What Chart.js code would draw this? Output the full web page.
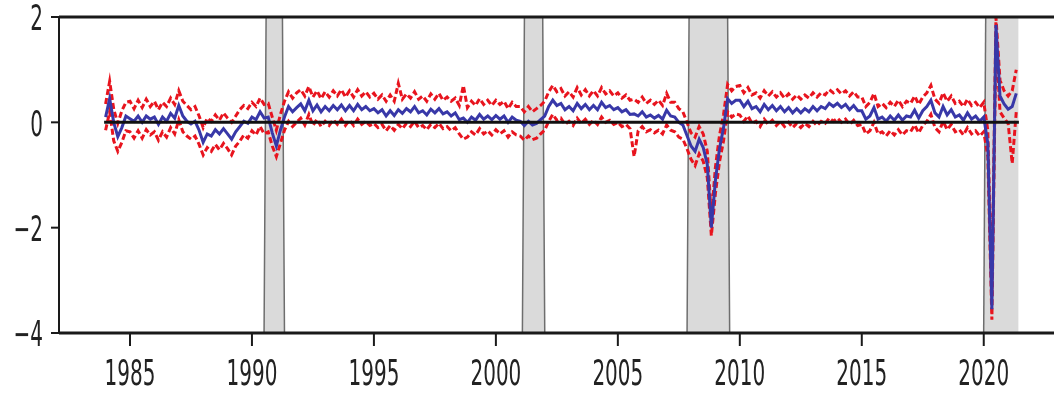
<!DOCTYPE html>
<html>
<head>
<meta charset="utf-8">
<script src="https://cdn.jsdelivr.net/npm/chart.js@4/dist/chart.umd.min.js"></script>
<style>
  body { margin: 0; background: #fff; }
  #wrap { width: 1054px; height: 399px; }
</style>
</head>
<body>
<div id="wrap"><canvas id="chart"></canvas></div>
<script>
// bi-monthly values (Jan, Mar, May, Jul, Sep, Nov), 1984 -> May 2021
const startYear = 1984;
const stepYear = 1 / 6;

const median = [
  0.10, 0.45, 0.00, -0.27, -0.10, 0.12,   // 1984
  0.07, 0.02, 0.12, 0.00, 0.12, 0.06,     // 1985
  0.10, -0.04, 0.10, 0.02, 0.17, 0.08,    // 1986
  0.32, 0.12, 0.02, -0.03, 0.02, -0.15,   // 1987
  -0.38, -0.22, -0.26, -0.14, -0.22, -0.12, // 1988
  -0.22, -0.32, -0.18, -0.08, 0.02, -0.02, // 1989
  0.10, 0.05, 0.20, 0.08, 0.10, -0.20,    // 1990
  -0.45, -0.15, 0.10, 0.30, 0.20, 0.28,   // 1991
  0.35, 0.22, 0.42, 0.22, 0.33, 0.20,     // 1992
  0.30, 0.22, 0.32, 0.24, 0.33, 0.22,     // 1993
  0.32, 0.22, 0.34, 0.24, 0.30, 0.22,     // 1994
  0.26, 0.18, 0.24, 0.12, 0.22, 0.13,     // 1995
  0.24, 0.17, 0.26, 0.20, 0.30, 0.18,     // 1996
  0.22, 0.14, 0.25, 0.18, 0.26, 0.16,     // 1997
  0.20, 0.12, 0.18, 0.05, 0.08, 0.00,     // 1998
  0.10, 0.04, 0.15, 0.06, 0.12, 0.05,     // 1999
  0.13, 0.06, 0.12, 0.00, 0.10, 0.04,     // 2000
  0.02, -0.06, 0.02, -0.05, -0.02, 0.05,  // 2001
  0.12, 0.30, 0.42, 0.32, 0.36, 0.24,     // 2002
  0.30, 0.22, 0.36, 0.26, 0.34, 0.24,     // 2003
  0.32, 0.24, 0.38, 0.28, 0.32, 0.24,     // 2004
  0.28, 0.20, 0.24, 0.15, 0.16, 0.12,     // 2005
  0.20, 0.10, 0.14, 0.08, 0.13, 0.06,     // 2006
  0.23, 0.12, 0.10, 0.00, -0.05, -0.25,   // 2007
  -0.45, -0.55, -0.32, -0.48, -0.80, -2.00, // 2008
  -1.10, -0.50, -0.10, 0.45, 0.36, 0.42,  // 2009
  0.42, 0.30, 0.40, 0.26, 0.30, 0.20,     // 2010
  0.34, 0.24, 0.32, 0.22, 0.30, 0.20,     // 2011
  0.28, 0.18, 0.26, 0.18, 0.26, 0.20,     // 2012
  0.30, 0.22, 0.30, 0.26, 0.36, 0.30,     // 2013
  0.36, 0.28, 0.34, 0.24, 0.32, 0.22,     // 2014
  0.22, 0.06, 0.12, 0.28, 0.06, 0.10,     // 2015
  0.02, 0.12, 0.04, 0.14, 0.04, 0.12,     // 2016
  0.10, 0.23, 0.08, 0.22, 0.30, 0.42,     // 2017
  0.18, 0.10, 0.30, 0.14, 0.24, 0.10,     // 2018
  0.14, 0.04, 0.18, 0.06, 0.12, 0.02,     // 2019
  0.10, -0.40, -3.55, 1.85, 0.50, 0.35,   // 2020
  0.25, 0.30, 0.55                        // 2021
];

const upper = [
  0.35, 0.78, 0.25, -0.02, 0.22, 0.38,
  0.40, 0.26, 0.42, 0.28, 0.44, 0.30,
  0.40, 0.24, 0.38, 0.30, 0.46, 0.34,
  0.60, 0.40, 0.32, 0.24, 0.30, 0.12,
  -0.10, 0.08, 0.02, 0.14, 0.04, 0.18,
  0.08, 0.00, 0.12, 0.24, 0.32, 0.26,
  0.38, 0.30, 0.46, 0.34, 0.36, 0.10,
  -0.15, 0.15, 0.40, 0.58, 0.46, 0.56,
  0.62, 0.50, 0.68, 0.48, 0.60, 0.45,
  0.58, 0.48, 0.60, 0.50, 0.62, 0.48,
  0.60, 0.48, 0.62, 0.50, 0.58, 0.48,
  0.55, 0.44, 0.52, 0.40, 0.52, 0.40,
  0.74, 0.44, 0.54, 0.46, 0.58, 0.44,
  0.50, 0.40, 0.54, 0.44, 0.55, 0.42,
  0.48, 0.40, 0.46, 0.32, 0.70, 0.28,
  0.40, 0.32, 0.45, 0.34, 0.42, 0.32,
  0.42, 0.34, 0.40, 0.26, 0.38, 0.30,
  0.30, 0.20, 0.30, 0.20, 0.26, 0.32,
  0.40, 0.58, 0.70, 0.58, 0.64, 0.50,
  0.58, 0.48, 0.66, 0.52, 0.62, 0.50,
  0.60, 0.50, 0.66, 0.54, 0.60, 0.50,
  0.56, 0.46, 0.52, 0.42, 0.44, 0.38,
  0.48, 0.36, 0.42, 0.34, 0.42, 0.32,
  0.55, 0.38, 0.38, 0.26, 0.20, 0.00,
  -0.20, -0.28, -0.08, -0.22, -0.55, -1.80,
  -0.85, -0.25, 0.15, 0.72, 0.60, 0.68,
  0.70, 0.56, 0.66, 0.52, 0.56, 0.46,
  0.60, 0.50, 0.58, 0.48, 0.56, 0.46,
  0.54, 0.44, 0.52, 0.44, 0.52, 0.46,
  0.56, 0.48, 0.56, 0.52, 0.62, 0.56,
  0.62, 0.54, 0.60, 0.50, 0.58, 0.48,
  0.48, 0.30, 0.38, 0.55, 0.30, 0.36,
  0.28, 0.38, 0.30, 0.42, 0.30, 0.40,
  0.36, 0.50, 0.34, 0.48, 0.56, 0.70,
  0.44, 0.36, 0.56, 0.40, 0.50, 0.36,
  0.40, 0.30, 0.44, 0.32, 0.38, 0.28,
  0.38, -0.15, -3.30, 2.00, 0.80, 0.60,
  0.50, 0.60, 1.00
];

const lower = [
  -0.15, 0.20, -0.35, -0.55, -0.38, -0.16,
  -0.18, -0.30, -0.16, -0.30, -0.14, -0.24,
  -0.18, -0.34, -0.18, -0.28, -0.10, -0.22,
  0.05, -0.18, -0.26, -0.32, -0.26, -0.42,
  -0.62, -0.48, -0.55, -0.42, -0.52, -0.40,
  -0.50, -0.62, -0.45, -0.36, -0.24, -0.30,
  -0.16, -0.24, -0.08, -0.22, -0.18, -0.45,
  -0.65, -0.40, -0.15, 0.02, -0.08, 0.00,
  0.08, -0.05, 0.15, -0.06, 0.06, -0.08,
  0.02, -0.06, 0.05, -0.04, 0.06, -0.06,
  0.04, -0.06, 0.06, -0.04, 0.02, -0.06,
  -0.02, -0.10, -0.04, -0.16, -0.06, -0.15,
  -0.04, -0.12, -0.02, -0.08, 0.02, -0.10,
  -0.06, -0.14, -0.04, -0.10, -0.02, -0.12,
  -0.08, -0.16, -0.10, -0.22, -0.32, -0.28,
  -0.18, -0.24, -0.12, -0.22, -0.16, -0.24,
  -0.14, -0.22, -0.16, -0.28, -0.18, -0.24,
  -0.26, -0.34, -0.26, -0.33, -0.30, -0.22,
  -0.15, 0.02, 0.15, 0.04, 0.08, -0.04,
  0.02, -0.06, 0.08, -0.02, 0.06, -0.04,
  0.04, -0.04, 0.10, 0.00, 0.04, -0.04,
  0.00, -0.08, -0.04, -0.12, -0.65, -0.16,
  -0.08, -0.18, -0.14, -0.20, -0.15, -0.22,
  -0.05, -0.15, -0.18, -0.28, -0.32, -0.50,
  -0.70, -0.82, -0.60, -0.74, -1.05, -2.15,
  -1.35, -0.75, -0.35, 0.20, 0.10, 0.16,
  0.14, 0.02, 0.12, -0.02, 0.02, -0.08,
  0.06, -0.04, 0.04, -0.06, 0.02, -0.08,
  0.00, -0.10, -0.02, -0.10, -0.02, -0.08,
  0.02, -0.06, 0.02, -0.02, 0.08, 0.02,
  0.08, 0.00, 0.06, -0.04, 0.04, -0.06,
  -0.04, -0.22, -0.16, 0.00, -0.22, -0.18,
  -0.26, -0.16, -0.24, -0.14, -0.24, -0.16,
  -0.18, -0.05, -0.20, -0.06, 0.02, 0.15,
  -0.10, -0.18, 0.02, -0.14, -0.04, -0.18,
  -0.14, -0.24, -0.10, -0.22, -0.16, -0.26,
  -0.18, -0.65, -3.75, 1.60, 0.20, 0.08,
  -0.02, -0.78, 0.20
];

// recessions (shaded)
const recStart = [1990.58, 2001.17, 2007.92, 2020.08];
const recEnd = [1991.25, 2001.92, 2009.50, 2021.42];

const xTicks = [1985, 1990, 1995, 2000, 2005, 2010, 2015, 2020];
const yTicks = [-4, -2, 0, 2];
const zeroLine = [1983.94, 2021.44];

function toPoints(arr) {
  return arr.map((v, i) => ({ x: startYear + i * stepYear, y: v }));
}

const frame = {
  id: 'frame',
  beforeDatasetsDraw(chart) {
    const ctx = chart.ctx;
    const xs = chart.scales.x, ys = chart.scales.y;
    const top = ys.getPixelForValue(2), bot = ys.getPixelForValue(-4);
    ctx.save();
    for (let i = 0; i < recStart.length; i++) {
      const a = xs.getPixelForValue(recStart[i]);
      const b = xs.getPixelForValue(recEnd[i]);
      const a2 = xs.getPixelForValue(recStart[i] - 1 / 12);
      const last = i === recStart.length - 1;
      const b2 = last ? b : xs.getPixelForValue(recEnd[i] + 1 / 12);
      ctx.fillStyle = '#dadada';
      ctx.beginPath();
      ctx.moveTo(a, top); ctx.lineTo(b, top); ctx.lineTo(b2, bot); ctx.lineTo(a2, bot);
      ctx.closePath();
      ctx.fill();
      ctx.strokeStyle = '#6e6e6e';
      ctx.lineWidth = 1.5;
      ctx.beginPath();
      ctx.moveTo(a, top); ctx.lineTo(a2, bot);
      if (!last) { ctx.moveTo(b, top); ctx.lineTo(b2, bot); }
      ctx.stroke();
    }
    ctx.restore();
  },
  afterDraw(chart) {
    const ctx = chart.ctx;
    const area = chart.chartArea;
    const xs = chart.scales.x, ys = chart.scales.y;
    ctx.save();
    ctx.strokeStyle = '#1a1a1a';
    // spines
    ctx.lineWidth = 3;
    ctx.beginPath();
    ctx.moveTo(area.left, area.top); ctx.lineTo(area.right, area.top);
    ctx.moveTo(area.left, area.bottom); ctx.lineTo(area.right, area.bottom);
    ctx.stroke();
    ctx.lineWidth = 2;
    ctx.beginPath();
    ctx.moveTo(area.left, area.top); ctx.lineTo(area.left, area.bottom);
    ctx.stroke();

    // ticks + labels (text is tall/narrow in the original)
    ctx.fillStyle = '#222';
    ctx.font = '20px "DejaVu Sans"';
    ctx.lineWidth = 2;
    yTicks.forEach(t => {
      const y = ys.getPixelForValue(t);
      ctx.beginPath();
      ctx.moveTo(area.left - 8, y); ctx.lineTo(area.left, y);
      ctx.stroke();
      ctx.save();
      ctx.translate(area.left - 16, y + 4);
      ctx.scale(1, 1.78);
      ctx.textAlign = 'right';
      ctx.textBaseline = 'middle';
      ctx.fillText(t < 0 ? '\u2212' + Math.abs(t) : String(t), 0, 0);
      ctx.restore();
    });
    xTicks.forEach(t => {
      const x = xs.getPixelForValue(t);
      ctx.beginPath();
      ctx.moveTo(x, area.bottom); ctx.lineTo(x, area.bottom + 13);
      ctx.stroke();
      ctx.save();
      ctx.translate(x, area.bottom + 43);
      ctx.scale(1, 1.78);
      ctx.textAlign = 'center';
      ctx.textBaseline = 'middle';
      ctx.fillText(String(t), 0, 0);
      ctx.restore();
    });
    ctx.restore();
  }
};

const redDash = {
  borderColor: '#e8141e',
  borderWidth: 3,
  borderDash: [6, 3],
  pointRadius: 0,
  fill: false
};

new Chart(document.getElementById('chart'), {
  type: 'line',
  data: {
    datasets: [
      {
        label: 'zero',
        data: zeroLine.map(x => ({ x: x, y: 0 })),
        borderColor: '#111',
        borderWidth: 3,
        pointRadius: 0
      },
      {
        label: 'median',
        data: toPoints(median),
        borderColor: '#3838a8',
        borderWidth: 3,
        pointRadius: 0
      },
      Object.assign({ label: 'upper', data: toPoints(upper) }, redDash),
      Object.assign({ label: 'lower', data: toPoints(lower) }, redDash)
    ]
  },
  options: {
    responsive: true,
    maintainAspectRatio: false,
    animation: false,
    layout: { padding: { top: 17, left: 0, right: 0, bottom: 0 } },
    plugins: { legend: { display: false }, tooltip: { enabled: false } },
    scales: {
      x: {
        type: 'linear',
        min: 1982.09,
        max: 2022.88,
        grid: { display: false },
        border: { display: false },
        ticks: { display: false },
        afterFit: s => { s.height = 66; }
      },
      y: {
        min: -4,
        max: 2,
        grid: { display: false },
        border: { display: false },
        ticks: { display: false },
        afterFit: s => { s.width = 59; }
      }
    }
  },
  plugins: [frame]
});
</script>
</body>
</html>
